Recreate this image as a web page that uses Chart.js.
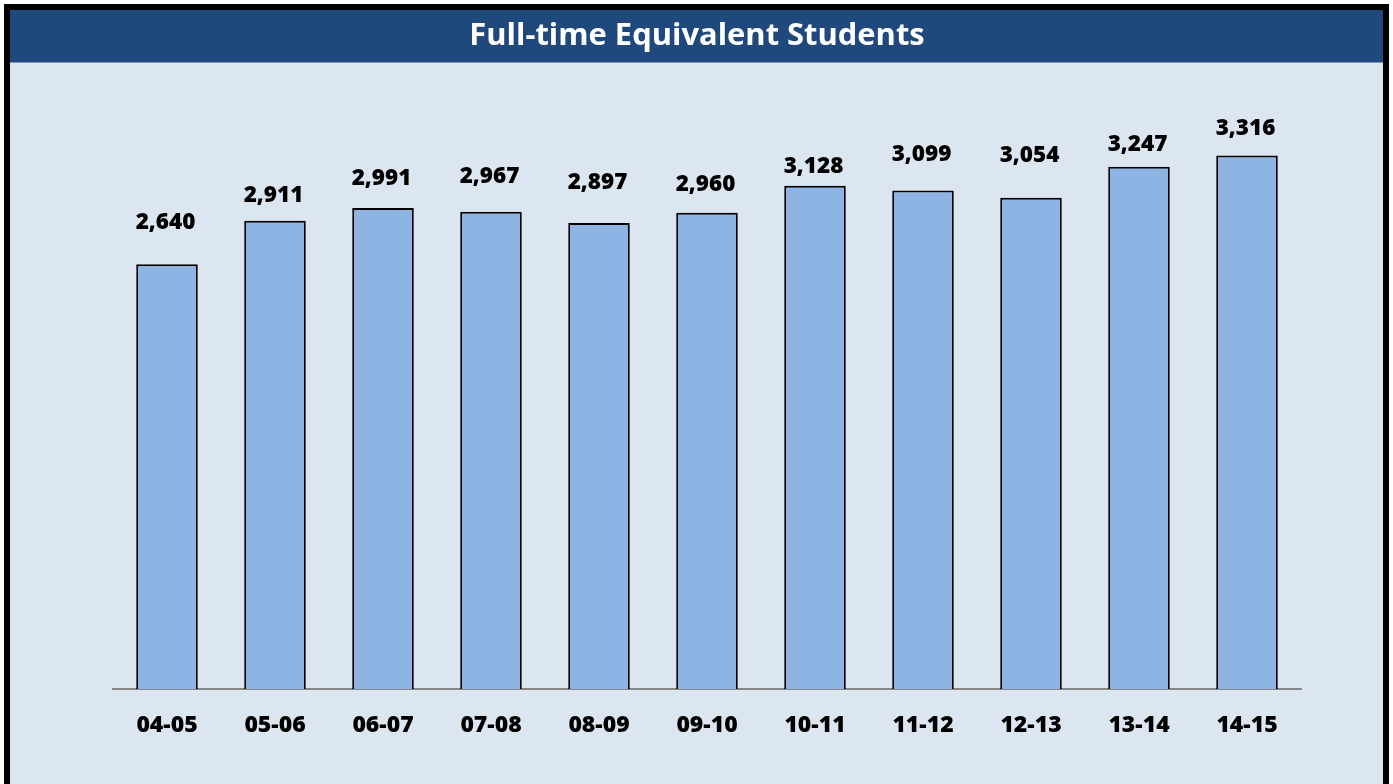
<!DOCTYPE html>
<html>
<head>
<meta charset="utf-8">
<script src="https://cdn.jsdelivr.net/npm/chart.js@4/dist/chart.umd.min.js"></script>
<style>
  html, body { margin: 0; padding: 0; background: #ffffff; }
  #wrap { width: 1393px; height: 784px; position: relative; }
</style>
</head>
<body>
<div id="wrap"><canvas id="c" width="1393" height="784"></canvas></div>
<script>
const chartTitle = "Full-time Equivalent Students";
const categories = ["04-05", "05-06", "06-07", "07-08", "08-09", "09-10", "10-11", "11-12", "12-13", "13-14", "14-15"];
const fteStudents = [2640, 2911, 2991, 2967, 2897, 2960, 3128, 3099, 3054, 3247, 3316];

const FONT = "'Open Sans', Lato, 'Liberation Sans', sans-serif";

const framePlugin = {
  id: 'frame',
  beforeDraw(chart) {
    const ctx = chart.ctx;
    const W = chart.width, H = chart.height;
    ctx.save();
    ctx.fillStyle = '#ffffff';
    ctx.fillRect(0, 0, W, H);
    ctx.fillStyle = '#000000';
    ctx.fillRect(4, 4, 1385, H - 4);
    ctx.fillStyle = '#DCE6F1';
    ctx.fillRect(10, 10, 1373, H - 10);
    ctx.fillStyle = '#1F497D';
    ctx.fillRect(10, 10, 1373, 52.5);
    ctx.fillStyle = '#ffffff';
    ctx.font = "bold 30px " + FONT;
    const w30 = ctx.measureText(chartTitle).width;
    const size = Math.min(32, 30 * 456 / w30);
    ctx.font = "bold " + size.toFixed(1) + "px " + FONT;
    ctx.textAlign = 'center';
    ctx.textBaseline = 'alphabetic';
    ctx.fillText(chartTitle, 697, 44.5);
    ctx.restore();
  }
};

// gap (px) between bar top and label baseline, as placed in the original
const labelGaps = [35, 18.5, 22.6, 28.3, 34.3, 21.7, 13.3, 30, 35.6, 15.7, 21];

const valueLabels = {
  id: 'valueLabels',
  afterDatasetsDraw(chart) {
    const ctx = chart.ctx;
    const meta = chart.getDatasetMeta(0);
    ctx.save();
    ctx.fillStyle = '#000000';
    ctx.font = "800 22.5px " + FONT;
    ctx.textAlign = 'center';
    ctx.textBaseline = 'alphabetic';
    meta.data.forEach((bar, i) => {
      const v = chart.data.datasets[0].data[i];
      ctx.fillText(v.toLocaleString('en-US'), bar.x - 1.5, bar.y - labelGaps[i]);
    });
    ctx.restore();
  }
};

new Chart(document.getElementById('c'), {
  type: 'bar',
  data: {
    labels: categories,
    datasets: [{
      data: fteStudents,
      backgroundColor: '#8EB4E3',
      borderColor: '#000000',
      borderWidth: 2,
      categoryPercentage: 1.0,
      barPercentage: 0.57
    }]
  },
  options: {
    responsive: false,
    animation: false,
    events: [],
    layout: { padding: { left: 113, right: 92, top: 126, bottom: 0 } },
    plugins: {
      legend: { display: false },
      title: { display: false },
      tooltip: { enabled: false }
    },
    scales: {
      x: {
        z: 1,
        grid: { display: false, drawTicks: false },
        border: { display: true, color: '#868686', width: 2 },
        ticks: {
          color: '#000000',
          padding: 23,
          font: { family: FONT, size: 23, weight: '800' }
        },
        afterFit(scale) { scale.height = 95; }
      },
      y: {
        display: false,
        min: 0,
        max: 3500
      }
    }
  },
  plugins: [framePlugin, valueLabels]
});
</script>
</body>
</html>
